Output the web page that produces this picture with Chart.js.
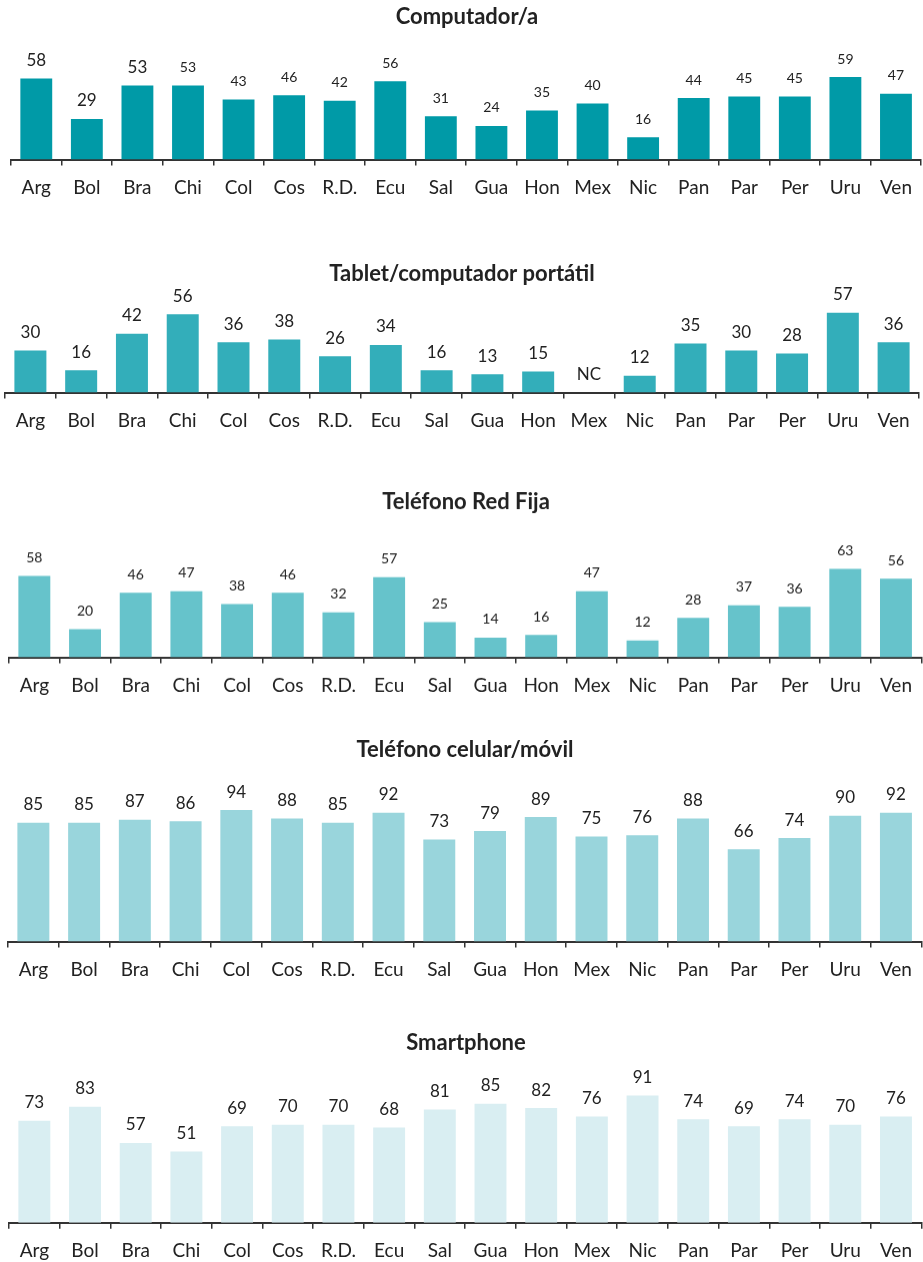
<!DOCTYPE html>
<html>
<head>
<meta charset="utf-8">
<script src="https://cdn.jsdelivr.net/npm/chart.js@4.4.1/dist/chart.umd.min.js"></script>
<style>
  body { margin: 0; background: #fff; width: 923px; height: 1262px; position: relative; overflow: hidden; }
  .panel { position: absolute; left: 0; width: 923px; }
</style>
</head>
<body>
<div class="panel" id="p0"><canvas id="c0"></canvas></div>
<div class="panel" id="p1"><canvas id="c1"></canvas></div>
<div class="panel" id="p2"><canvas id="c2"></canvas></div>
<div class="panel" id="p3"><canvas id="c3"></canvas></div>
<div class="panel" id="p4"><canvas id="c4"></canvas></div>
<script>
const countries = ['Arg', 'Bol', 'Bra', 'Chi', 'Col', 'Cos', 'R.D.', 'Ecu', 'Sal', 'Gua', 'Hon', 'Mex', 'Nic', 'Pan', 'Par', 'Per', 'Uru', 'Ven'];

const computador = [58, 29, 53, 53, 43, 46, 42, 56, 31, 24, 35, 40, 16, 44, 45, 45, 59, 47];
const tablet = [30, 16, 42, 56, 36, 38, 26, 34, 16, 13, 15, null, 12, 35, 30, 28, 57, 36]; // Mex = NC
const telefonoFijo = [58, 20, 46, 47, 38, 46, 32, 57, 25, 14, 16, 47, 12, 28, 37, 36, 63, 56];
const celular = [85, 85, 87, 86, 94, 88, 85, 92, 73, 79, 89, 75, 76, 88, 66, 74, 90, 92];
const smartphone = [73, 83, 57, 51, 69, 70, 70, 68, 81, 85, 82, 76, 91, 74, 69, 74, 70, 76];

const titles = ['Computador/a', 'Tablet/computador portátil', 'Teléfono Red Fija', 'Teléfono celular/móvil', 'Smartphone'];
const series = [computador, tablet, telefonoFijo, celular, smartphone];
const missingLabel = 'NC';

// layout / style per panel
const colors = ['#009aa7', '#33aeba', '#66c3cb', '#99d5dc', '#d9eef2'];
const panelBox = [
  { title: 17, base: 159.5, padL: 11, padR: 0 },
  { title: 274, base: 392.5, padL: 5, padR: 4 },
  { title: 502.5, base: 657, padL: 9, padR: 0 },
  { title: 750, base: 941.5, padL: 8, padR: 1 },
  { title: 1043, base: 1222.7, padL: 9, padR: 0 }
];
const small = 14, big = 17;
const labelSizes = [
  countries.map((c, i) => i < 3 ? big : small),
  countries.map(() => big),
  countries.map(() => small),
  countries.map(() => big),
  countries.map(() => big)
];
const pxPerUnit = 1.4;
const titleSize = 22, titleGap = 8;
const titleH = titleSize * 1.2 + titleGap;
const axisH = 50.6;
const fontFamily = 'Lato, "Open Sans", sans-serif';
const textColor = '#222';

const valueLabels = {
  id: 'valueLabels',
  afterDatasetsDraw(chart, args, opts) {
    const { ctx } = chart;
    const xs = chart.scales.x, ys = chart.scales.y;
    const data = chart.data.datasets[0].data;
    ctx.save();
    ctx.fillStyle = textColor;
    ctx.textAlign = 'center';
    ctx.textBaseline = 'middle';
    data.forEach((v, i) => {
      ctx.font = opts.sizes[i] + 'px ' + fontFamily;
      const x = xs.getPixelForValue(i);
      const y = ys.getPixelForValue(v == null ? 0 : v) - 18;
      ctx.fillText(v == null ? missingLabel : String(v), x, y);
    });
    ctx.restore();
  }
};

series.forEach((values, k) => {
  const box = panelBox[k];
  const top = box.title - titleSize * 0.6;
  const chartTop = top + titleH;
  const yMax = (box.base - chartTop) / pxPerUnit;
  const wrap = document.getElementById('p' + k);
  wrap.style.top = top + 'px';
  wrap.style.height = (box.base + axisH - top) + 'px';

  new Chart(document.getElementById('c' + k), {
    type: 'bar',
    data: {
      labels: countries,
      datasets: [{
        data: values,
        backgroundColor: colors[k],
        barPercentage: 0.63,
        categoryPercentage: 1
      }]
    },
    plugins: [valueLabels],
    options: {
      responsive: true,
      maintainAspectRatio: false,
      animation: false,
      layout: { padding: { left: box.padL, right: box.padR, top: 0, bottom: 0 } },
      plugins: {
        legend: { display: false },
        tooltip: { enabled: false },
        title: {
          display: true,
          text: titles[k],
          color: textColor,
          font: { family: fontFamily, size: titleSize, weight: 'bold' },
          padding: { top: 0, bottom: titleGap }
        },
        valueLabels: { sizes: labelSizes[k] }
      },
      scales: {
        y: { display: false, min: 0, max: yMax },
        x: {
          offset: true,
          grid: { offset: true, drawOnChartArea: false, tickLength: 6, color: '#333', lineWidth: 1.5 },
          border: { display: true, color: '#333', width: 2 },
          ticks: { color: textColor, padding: 11, font: { family: fontFamily, size: 19 } }
        }
      }
    }
  });
});
</script>
</body>
</html>
